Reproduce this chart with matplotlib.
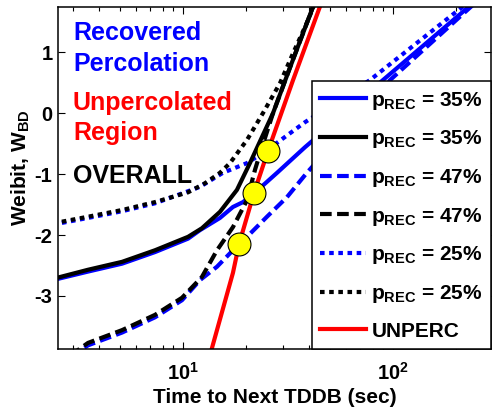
import matplotlib
matplotlib.use("Agg")
import matplotlib.pyplot as plt
from matplotlib.ticker import FixedLocator, FixedFormatter, LogLocator, NullFormatter

plt.rcParams['font.family'] = ['Liberation Sans', 'DejaVu Sans']
plt.rcParams['font.weight'] = 'bold'
plt.rcParams['mathtext.fontset'] = 'custom'
plt.rcParams['mathtext.rm'] = 'Liberation Sans:bold'
plt.rcParams['mathtext.bf'] = 'Liberation Sans:bold'
plt.rcParams['mathtext.it'] = 'Liberation Sans:bold'
plt.rcParams['axes.unicode_minus'] = False

# ---- data (time in sec, Weibit) ----
unperc_t = [13.5, 17.30, 18.49, 21.78, 25.41, 33.42, 45.5]
unperc_w = [-3.95, -2.62, -2.15, -1.31, -0.62, 0.54, 1.80]

rec35_t = [2.4, 3.53, 5.13, 7.36, 10.57, 12.05, 15.00, 17.30, 19.32, 22.75, 28.05, 38.11, 89.5, 240.0]
rec35_w = [-2.74, -2.60, -2.47, -2.28, -2.06, -1.92, -1.72, -1.54, -1.46, -1.26, -0.98, -0.56, 0.54, 1.80]

all35_t = [2.4, 3.53, 5.13, 7.36, 10.57, 12.30, 15.00, 18.07, 20.84, 26.85, 32.36, 41.59, 44.0]
all35_w = [-2.72, -2.57, -2.44, -2.25, -2.03, -1.89, -1.62, -1.26, -0.82, 0.00, 0.75, 1.74, 2.0]

rec47_t = [2.9, 3.53, 5.13, 7.36, 9.89, 12.05, 14.52, 17.30, 20.18, 25.12, 31.26, 38.90, 96.8, 245.0]
rec47_w = [-4.00, -3.81, -3.60, -3.35, -3.07, -2.74, -2.52, -2.25, -2.03, -1.70, -1.38, -0.98, 0.54, 1.80]

all47_t = [2.9, 3.53, 5.13, 7.36, 9.89, 12.30, 14.52, 17.30, 20.18, 22.03, 23.28, 26.85, 32.36, 41.59, 44.0]
all47_w = [-3.98, -3.77, -3.56, -3.31, -3.03, -2.69, -2.25, -1.87, -1.43, -0.93, -0.66, 0.00, 0.75, 1.74, 2.0]

rec25_t = [2.4, 3.53, 5.13, 7.36, 9.68, 12.05, 15.49, 20.18, 25.12, 32.36, 38.11, 77.6, 225.0]
rec25_w = [-1.83, -1.72, -1.61, -1.48, -1.33, -1.21, -0.98, -0.82, -0.61, -0.33, -0.15, 0.54, 1.80]

all25_t = [2.4, 3.53, 5.13, 7.36, 10.57, 12.74, 15.00, 16.75, 20.18, 24.04, 28.97, 33.42, 38.90, 41.59, 43.5]
all25_w = [-1.81, -1.70, -1.59, -1.46, -1.30, -1.15, -0.98, -0.82, -0.44, 0.00, 0.49, 0.98, 1.48, 1.72, 2.0]

cross_t = [18.5, 21.8, 25.4]
cross_w = [-2.15, -1.31, -0.62]

legend_labels = [r'$\mathbf{p}_{\mathbf{REC}}$ = 35%', r'$\mathbf{p}_{\mathbf{REC}}$ = 35%',
                 r'$\mathbf{p}_{\mathbf{REC}}$ = 47%', r'$\mathbf{p}_{\mathbf{REC}}$ = 47%',
                 r'$\mathbf{p}_{\mathbf{REC}}$ = 25%', r'$\mathbf{p}_{\mathbf{REC}}$ = 25%',
                 'UNPERC']

fig = plt.figure(figsize=(4.92, 4.13), dpi=100)
ax = fig.add_axes([58/492, 1-349/413, (491-58)/492, (349-7)/413])

lw = 3
dash = (2.8, 1.3)
dot = (1.1, 1.1)
h1, = ax.plot(rec35_t, rec35_w, color='#0000ff', lw=lw)
h3, = ax.plot(rec47_t, rec47_w, color='#0000ff', lw=lw, ls=(0, dash))
h5, = ax.plot(rec25_t, rec25_w, color='#0000ff', lw=lw, ls=(0, dot))
h2, = ax.plot(all35_t, all35_w, color='black', lw=lw)
h4, = ax.plot(all47_t, all47_w, color='black', lw=lw, ls=(0, dash))
h6, = ax.plot(all25_t, all25_w, color='black', lw=lw, ls=(0, dot))
h7, = ax.plot(unperc_t, unperc_w, color='#ff0000', lw=lw)
ax.plot(cross_t, cross_w, 'o', ms=16.5, mfc='#ffff00', mec='black', mew=0.8, zorder=5)

ax.set_xscale('log')
ax.set_xlim(2.54, 293)
ax.set_ylim(-3.87, 1.74)
ax.set_yticks([-3, -2, -1, 0, 1])
ax.set_yticklabels(['-3', '-2', '-1', '0', '1'])
ax.xaxis.set_major_locator(FixedLocator([10, 100]))
ax.xaxis.set_major_formatter(FixedFormatter([r'$\mathbf{10^{1}}$', r'$\mathbf{10^{2}}$']))
ax.xaxis.set_minor_locator(LogLocator(base=10, subs=range(2, 10)))
ax.xaxis.set_minor_formatter(NullFormatter())
ax.tick_params(which='both', direction='in', top=True, right=True, labelsize=14.5, width=0.8)
ax.tick_params(which='major', length=5)
ax.tick_params(which='minor', length=3)
ax.tick_params(axis='x', pad=9)
ax.tick_params(axis='y', pad=4)
for s in ax.spines.values():
    s.set_linewidth(1.1)

ax.set_xlabel('Time to Next TDDB (sec)', fontsize=15, fontweight='bold', labelpad=3)
ax.set_ylabel(r'Weibit, $\mathbf{W_{BD}}$', fontsize=15, fontweight='bold')
ax.yaxis.set_label_coords(-0.06, 0.53)

tx = (73-58)/433
def yf(py):
    return 1 - (py-7)/342
fs_t = 18
ax.text(tx, yf(40), 'Recovered', color='#0000ff', fontsize=fs_t, fontweight='bold', transform=ax.transAxes, va='baseline')
ax.text(tx, yf(71), 'Percolation', color='#0000ff', fontsize=fs_t, fontweight='bold', transform=ax.transAxes, va='baseline')
ax.text(tx, yf(110), 'Unpercolated', color='#ff0000', fontsize=fs_t, fontweight='bold', transform=ax.transAxes, va='baseline')
ax.text(tx, yf(140), 'Region', color='#ff0000', fontsize=fs_t, fontweight='bold', transform=ax.transAxes, va='baseline')
ax.text(tx, yf(183), 'OVERALL', color='black', fontsize=fs_t, fontweight='bold', transform=ax.transAxes, va='baseline')

leg = ax.legend([h1, h2, h3, h4, h5, h6, h7], legend_labels, loc='lower right',
                bbox_to_anchor=(1.0, 0.0), borderaxespad=0, fancybox=False,
                framealpha=1, edgecolor='black', prop={'size': 15, 'weight': 'bold'},
                handlelength=2.2, handletextpad=0.25, labelspacing=0.8, borderpad=0.4)
leg.get_frame().set_linewidth(1.1)
leg.set_zorder(10)

fig.savefig('out.png', dpi=100)
